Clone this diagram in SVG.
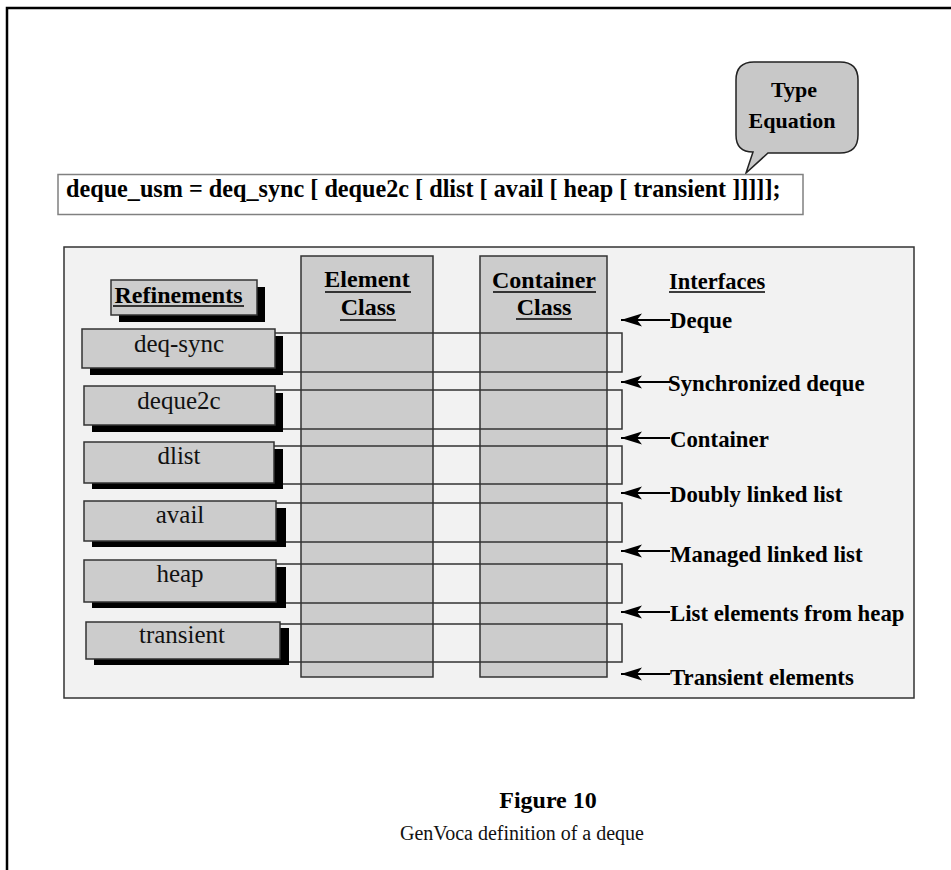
<svg xmlns="http://www.w3.org/2000/svg" width="951" height="870" viewBox="0 0 951 870">
<defs>
<style>
.frame{stroke:#000;stroke-width:2.5;fill:none}
.b{font-family:"Liberation Serif","Times New Roman",serif;font-weight:bold;fill:#000}
.r{font-family:"Liberation Serif","Times New Roman",serif;fill:#111}
.panel{fill:#f2f2f2;stroke:#333;stroke-width:1.5}
.col{fill:#cccccc;stroke:#333;stroke-width:1.5}
.layer{fill:none;stroke:#333;stroke-width:1.5}
.box{fill:#cccccc;stroke:#333;stroke-width:1.5}
.shadow{fill:#000}
.ul{stroke:#000;stroke-width:1.5}
.arr{stroke:#000;stroke-width:2;fill:none;marker-end:url(#ah)}
.lbl{font-size:22.8px}
</style>
<marker id="ah" markerUnits="userSpaceOnUse" markerWidth="24" markerHeight="16" refX="21" refY="7" orient="auto" viewBox="0 0 24 16">
<path d="M0,0.5 L21,7 L0,13.5 L5,7 Z" fill="#000"/>
</marker>
</defs>
<rect x="0" y="0" width="951" height="870" fill="#fff"/>
<path class="frame" d="M7,870 V8 H951"/>

<g id="bubble">
<path d="M753,152 L746,173 L768,153 L840,153 Q858,153 858,135 L858,80 Q858,62 840,62 L754,62 Q736,62 736,80 L736,135 Q736,152 753,152 Z" fill="#c8c8c8" stroke="#222" stroke-width="1.5"/>
<text class="b" x="794" y="97" font-size="22" text-anchor="middle">Type</text>
<text class="b" x="792" y="128" font-size="22" text-anchor="middle">Equation</text>
</g>

<g id="equation">
<rect x="58" y="174.5" width="745" height="40" fill="#fff" stroke="#808080" stroke-width="1.5"/>
<text class="b" x="66" y="197" font-size="24.2">deque_usm = deq_sync [ deque2c [ dlist [ avail [ heap [ transient ]]]]];</text>
</g>

<g id="panel">
<rect class="panel" x="64" y="247" width="850" height="451"/>
</g>

<g id="element-class">
<rect class="col" x="301" y="256" width="132" height="421"/>
<text class="b" x="367" y="287" font-size="24" text-anchor="middle">Element</text>
<line class="ul" x1="325" y1="292" x2="411" y2="292"/>
<text class="b" x="368" y="315" font-size="24" text-anchor="middle">Class</text>
<line class="ul" x1="340" y1="320" x2="396" y2="320"/>
</g>

<g id="container-class">
<rect class="col" x="480" y="256" width="127" height="421"/>
<text class="b" x="544" y="288" font-size="24" text-anchor="middle">Container</text>
<line class="ul" x1="493" y1="292" x2="596" y2="292"/>
<text class="b" x="544" y="315" font-size="24" text-anchor="middle">Class</text>
<line class="ul" x1="516" y1="319" x2="572" y2="319"/>
</g>

<g id="layers">
<rect class="layer" x="200" y="333" width="422" height="39"/>
<rect class="layer" x="200" y="390" width="422" height="39"/>
<rect class="layer" x="200" y="446" width="422" height="38"/>
<rect class="layer" x="200" y="503" width="422" height="39"/>
<rect class="layer" x="200" y="564" width="422" height="39"/>
<rect class="layer" x="200" y="624" width="422" height="38"/>
</g>

<g id="refinements-header">
<rect class="shadow" x="119" y="287" width="146" height="35"/>
<rect class="box" x="111" y="280" width="146" height="35"/>
<text class="b" x="178.5" y="303" font-size="24" text-anchor="middle">Refinements</text>
<line class="ul" x1="113" y1="306" x2="244" y2="306"/>
</g>

<g id="deq-sync">
<rect class="shadow" x="90" y="336" width="193" height="39"/>
<rect class="box" x="82" y="329" width="193" height="39"/>
<text class="r" x="179" y="352" font-size="25" text-anchor="middle">deq-sync</text>
</g>
<g id="deque2c">
<rect class="shadow" x="92" y="393" width="191" height="39"/>
<rect class="box" x="84" y="386" width="191" height="39"/>
<text class="r" x="179" y="409" font-size="25" text-anchor="middle">deque2c</text>
</g>
<g id="dlist">
<rect class="shadow" x="92" y="449" width="191" height="40"/>
<rect class="box" x="84" y="442" width="190" height="41"/>
<text class="r" x="179" y="464" font-size="25" text-anchor="middle">dlist</text>
</g>
<g id="avail">
<rect class="shadow" x="92" y="508" width="194" height="39"/>
<rect class="box" x="84" y="501" width="192" height="40"/>
<text class="r" x="180" y="523" font-size="25" text-anchor="middle">avail</text>
</g>
<g id="heap">
<rect class="shadow" x="92" y="567" width="194" height="41"/>
<rect class="box" x="84" y="560" width="192" height="42"/>
<text class="r" x="180" y="582" font-size="25" text-anchor="middle">heap</text>
</g>
<g id="transient">
<rect class="shadow" x="94" y="628" width="195" height="37"/>
<rect class="box" x="86" y="622" width="194" height="37"/>
<text class="r" x="182" y="643" font-size="25" text-anchor="middle">transient</text>
</g>

<g id="interfaces">
<text class="b" x="669" y="289" font-size="22.5">Interfaces</text>
<line class="ul" x1="669" y1="292" x2="765" y2="292"/>
<text class="b lbl" x="670" y="328">Deque</text>
<text class="b lbl" x="668" y="391">Synchronized deque</text>
<text class="b lbl" x="670" y="447">Container</text>
<text class="b lbl" x="670" y="502">Doubly linked list</text>
<text class="b lbl" x="670" y="562">Managed linked list</text>
<text class="b lbl" x="670" y="621">List elements from heap</text>
<text class="b lbl" x="670" y="685">Transient elements</text>
</g>

<g id="connectors">
<line class="arr" x1="670" y1="320" x2="621" y2="320"/>
<line class="arr" x1="670" y1="382" x2="621" y2="382"/>
<line class="arr" x1="670" y1="438" x2="621" y2="438"/>
<line class="arr" x1="670" y1="493" x2="621" y2="493"/>
<line class="arr" x1="670" y1="551" x2="621" y2="551"/>
<line class="arr" x1="670" y1="612" x2="621" y2="612"/>
<line class="arr" x1="670" y1="674" x2="621" y2="674"/>
</g>

<g id="caption">
<text class="b" x="548" y="808" font-size="24" text-anchor="middle">Figure 10</text>
<text class="r" x="522" y="840" font-size="20" text-anchor="middle">GenVoca definition of a deque</text>
</g>
</svg>
